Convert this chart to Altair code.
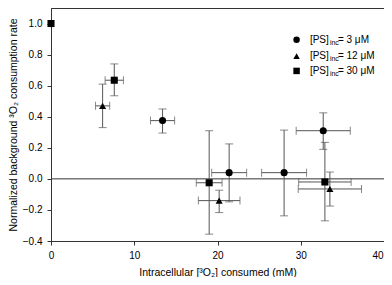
import altair as alt
import pandas as pd

# data
series = ["3", "3", "3", "3", "12", "12", "12", "30", "30", "30", "30"]
xv   = [13.4, 21.4, 28.0, 32.7,  6.2, 20.2, 33.5,  0.0,  7.6, 19.0, 32.9]
xerr = [1.45, 2.1,  2.7,  3.25, 0.85, 2.5,  3.8,  0.0,  1.1,  1.55, 3.15]
yv   = [0.375, 0.04, 0.04, 0.31, 0.47, -0.14, -0.065, 1.0, 0.635, -0.025, -0.02]
ylo  = [0.295, -0.148, -0.238, 0.19, 0.33, -0.217, -0.175, 1.0, 0.535, -0.356, -0.27]
yhi  = [0.45, 0.225, 0.314, 0.425, 0.61, -0.073, 0.044, 1.0, 0.74, 0.31, 0.235]

x_ticks = [0, 10, 20, 30, 40]
y_ticks = [-0.4, -0.2, 0.0, 0.2, 0.4, 0.6, 0.8, 1.0]

legend_series = ["3", "12", "30"]
legend_y = [0.895, 0.79, 0.695]
legend_text = ["= 3 μM", "= 12 μM", "= 30 μM"]
legend_x = 29.5
legend_text_x = 31.1

df = pd.DataFrame({"series": series, "x": xv, "y": yv, "ylo": ylo, "yhi": yhi})
df["xlo"] = df["x"] - pd.Series(xerr)
df["xhi"] = df["x"] + pd.Series(xerr)
eb = df[df["x"] > 0]

shapes = alt.Scale(domain=["3", "12", "30"], range=["circle", "triangle-up", "square"])
xs = alt.Scale(domain=[0, 40], nice=False, zero=False)
ys = alt.Scale(domain=[-0.4, 1.1], nice=False, zero=False)
xt = "Intracellular [³O₂] consumed (mM)"
yt = "Normalized background ³O₂ consumption rate"
xax = alt.Axis(values=x_ticks, grid=False, labelFlush=False, labelOverlap=False,
               labelAlign={"condition": {"test": "datum.value >= 40", "value": "right"}, "value": "center"},
               labelOffset={"condition": {"test": "datum.value >= 40", "value": -1}, "value": 0})
yax = alt.Axis(values=y_ticks, format=".1f", grid=False, labelFlush=False, labelOverlap=False)


def XQ(f):
    return alt.X(f"{f}:Q", scale=xs, title=xt, axis=xax)


def YQ(f):
    return alt.Y(f"{f}:Q", scale=ys, title=yt, axis=yax)


ebc = "#555555"
base = alt.Chart(eb)
vrule = base.mark_rule(color=ebc, strokeWidth=1).encode(x=XQ("x"), y=YQ("ylo"), y2="yhi:Q")
hrule = base.mark_rule(color=ebc, strokeWidth=1).encode(x=XQ("xlo"), x2="xhi:Q", y=YQ("y"))
cap_lo = base.mark_tick(color=ebc, orient="horizontal", size=8, thickness=1).encode(x=XQ("x"), y=YQ("ylo"))
cap_hi = base.mark_tick(color=ebc, orient="horizontal", size=8, thickness=1).encode(x=XQ("x"), y=YQ("yhi"))
cap_l = base.mark_tick(color=ebc, orient="vertical", size=8, thickness=1).encode(x=XQ("xlo"), y=YQ("y"))
cap_r = base.mark_tick(color=ebc, orient="vertical", size=8, thickness=1).encode(x=XQ("xhi"), y=YQ("y"))

zero = alt.Chart(pd.DataFrame({"z": [0.0]})).mark_rule(color="#333333", strokeWidth=1).encode(y=YQ("z"))

pts = alt.Chart(df).mark_point(filled=True, color="black", opacity=1, size=50).encode(
    x=XQ("x"), y=YQ("y"), shape=alt.Shape("series:N", scale=shapes, legend=None))

ldf = pd.DataFrame({"series": legend_series, "y": legend_y, "t": legend_text,
                    "x": [legend_x] * 3, "tx": [legend_text_x] * 3})
lpts = alt.Chart(ldf).mark_point(filled=True, color="black", opacity=1, size=42).encode(
    x=XQ("x"), y=YQ("y"), shape=alt.Shape("series:N", scale=shapes, legend=None))
tfont = "Liberation Sans"
l1 = alt.Chart(ldf).mark_text(align="left", baseline="middle", fontSize=10, font=tfont, color="black").encode(
    x=XQ("tx"), y=YQ("y"), text=alt.value("[PS]"))
l2 = alt.Chart(ldf).mark_text(align="left", baseline="middle", fontSize=7, font=tfont, color="black", dx=20, dy=3).encode(
    x=XQ("tx"), y=YQ("y"), text=alt.value("inc"))
l3 = alt.Chart(ldf).mark_text(align="left", baseline="middle", fontSize=10, font=tfont, color="black", dx=28).encode(
    x=XQ("tx"), y=YQ("y"), text="t:N")

chart = alt.layer(zero, vrule, hrule, cap_lo, cap_hi, cap_l, cap_r, pts, lpts, l1, l2, l3).properties(
    width=333, height=233,
    autosize=alt.AutoSizeParams(type="none"),
    padding={"left": 43, "top": 0, "right": 0, "bottom": 36},
).configure_view(stroke="#333333", strokeWidth=1).configure_axis(
    labelFont=tfont, titleFont=tfont, labelFontSize=10, titleFontSize=10.5,
    titleFontWeight="normal", labelColor="black", titleColor="black",
    domainColor="#333333", tickColor="#333333", tickSize=4, labelPadding=5,
).configure_axisY(titlePadding=4).configure_axisX(titlePadding=7)

chart.save("out.html", embed_options={"renderer": "svg", "actions": False})
